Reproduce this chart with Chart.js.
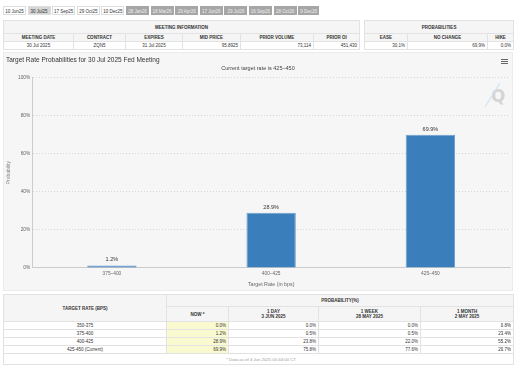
<!DOCTYPE html>
<html>
<head>
<meta charset="utf-8">
<script src="https://cdn.jsdelivr.net/npm/chart.js@4.4.1/dist/chart.umd.min.js"></script>
<style>
  body { margin: 0; width: 515px; height: 369px; background: #fff; font-family: "Liberation Sans", Arial, sans-serif; position: relative; overflow: hidden; }
  .tabs { position: absolute; left: 3px; top: 6px; height: 10px; }
  .tab { position: absolute; top: 0; height: 9px; line-height: 9px; font-size: 4.5px; text-align: center; border: 1px solid #ddd; box-sizing: border-box; color: #333; background: #fff; }
  .tab.sel { background: #d6d6d6; }
  .tab.far { background: #a6a6a6; color: #eee; border-color: #a6a6a6; }
  table { border-collapse: collapse; position: absolute; table-layout: fixed; font-size: 4.5px; color: #333; }
  td, th { border: 1px solid #e2e2e2; padding: 0 2px; white-space: nowrap; overflow: hidden; }
  th { font-weight: bold; background: #f5f5f5; text-align: center; }
  td.r { text-align: right; }
  td.c { text-align: center; }
  td.now { background: #fafad0; }
  #panel { position: absolute; left: 3px; top: 52px; width: 510px; height: 239px; background: #f6f6f6; border: 1px solid #ececec; box-sizing: border-box; }
  #chartWrap { position: absolute; left: 0; top: 0; width: 508px; height: 237px; }
  .menu { position: absolute; left: 497px; top: 6px; width: 7px; }
  .menu div { height: 1px; background: #666; margin-bottom: 1px; }
  .logo { position: absolute; left: 487px; top: 33px; font-size: 17px; font-weight: bold; color: #d4d4d4; font-family: "DejaVu Sans", sans-serif; }
  .streak { position: absolute; left: 488px; top: 28px; width: 1px; height: 28px; background: #cfe3f4; transform: rotate(32deg); }
  .foot { text-align: right; color: #999; font-size: 4.3px; }
</style>
</head>
<body>
<div class="tabs" id="tabs"></div>

<table id="meetTable" style="left:3px; top:20px; width:356px;">
  <colgroup><col style="width:70px"><col style="width:52px"><col style="width:57px"><col style="width:58px"><col style="width:73px"><col style="width:46px"></colgroup>
  <tr style="height:13px"><th colspan="6">MEETING INFORMATION</th></tr>
  <tr style="height:8px"><th>MEETING DATE</th><th>CONTRACT</th><th>EXPIRES</th><th>MID PRICE</th><th>PRIOR VOLUME</th><th>PRIOR OI</th></tr>
  <tr style="height:8px" id="meetRow"></tr>
</table>

<table id="probTable" style="left:364px; top:20px; width:149px;">
  <colgroup><col style="width:43px"><col style="width:80px"><col style="width:26px"></colgroup>
  <tr style="height:13px"><th colspan="3">PROBABILITIES</th></tr>
  <tr style="height:8px"><th>EASE</th><th>NO CHANGE</th><th>HIKE</th></tr>
  <tr style="height:8px" id="probRow"></tr>
</table>

<div id="panel">
  <div id="chartWrap"><canvas id="chartProb"></canvas></div>
  <div class="menu"><div></div><div></div><div></div></div>
  <div class="logo">Q</div>
  <div class="streak"></div>
</div>

<table id="histTable" style="left:3px; top:294px; width:510px;">
  <colgroup><col style="width:163px"><col style="width:62px"><col style="width:90px"><col style="width:102px"><col style="width:93px"></colgroup>
  <tr style="height:12px"><th rowspan="2">TARGET RATE (BPS)</th><th colspan="4">PROBABILITY(%)</th></tr>
  <tr style="height:15px"><th>NOW *</th><th>1 DAY<br>3 JUN 2025</th><th>1 WEEK<br>28 MAY 2025</th><th>1 MONTH<br>2 MAY 2025</th></tr>
  <tbody id="histBody"></tbody>
</table>

<script>
// meeting tabs
const meetingTabs = ['10 Jun25', '30 Jul25', '17 Sep25', '29 Oct25', '10 Dec25', '28 Jan26', '18 Mar26', '29 Apr26', '17 Jun26', '29 Jul26', '16 Sep26', '28 Oct26', '9 Dec26'];
const selectedTab = 1;

// meeting information
const meetingInfo = ['30 Jul 2025', 'ZQN5', '31 Jul 2025', '95.8925', '73,114', '451,430'];
const meetingAlign = ['c', 'c', 'c', 'r', 'r', 'r'];
const summaryProbs = ['30.1%', '69.9%', '0.0%'];

// chart data
const targetRates = ['375\u2013400', '400\u2013425', '425\u2013450'];
const probabilities = [1.2, 28.9, 69.9];

// history table
const tableRates = ['350-375', '375-400', '400-425', '425-450 (Current)'];
const probNow = [0.0, 1.2, 28.9, 69.9];
const prob1Day = [0.0, 0.5, 23.8, 75.8];
const prob1Week = [0.0, 0.5, 22.0, 77.6];
const prob1Month = [0.8, 23.4, 55.2, 20.7];

// tabs
var tabsEl = document.getElementById('tabs');
var x = 0;
meetingTabs.forEach(function(t, i) {
	var d = document.createElement('div');
	d.className = 'tab' + (i == selectedTab ? ' sel' : '') + (i > 4 ? ' far' : '');
	var w = t.length > 7 ? 23 : 21;
	d.style.left = x + 'px';
	d.style.width = w + 'px';
	d.textContent = t;
	tabsEl.appendChild(d);
	x += w + 1.6;
});

document.getElementById('meetRow').innerHTML = meetingInfo.map(function(v, i) {
	return '<td class="' + meetingAlign[i] + '">' + v + '</td>';
}).join('');
document.getElementById('probRow').innerHTML = summaryProbs.map(function(v) {
	return '<td class="r">' + v + '</td>';
}).join('');

var rowsHtml = '';
tableRates.forEach(function(r, i) {
	rowsHtml += '<tr style="height:8px"><td class="c">' + r + '</td>' +
		'<td class="r now">' + probNow[i].toFixed(1) + '%</td>' +
		'<td class="r">' + prob1Day[i].toFixed(1) + '%</td>' +
		'<td class="r">' + prob1Week[i].toFixed(1) + '%</td>' +
		'<td class="r">' + prob1Month[i].toFixed(1) + '%</td></tr>';
});
rowsHtml += '<tr style="height:11px"><td colspan="5" class="foot"><span style="position:relative; right:215px">* Data as of 4 Jun 2025 05:44:00 CT</span></td></tr>';
document.getElementById('histBody').innerHTML = rowsHtml;

// value labels on top of bars
const barLabels = {
	id: 'barLabels',
	afterDatasetsDraw: function(chart) {
		var ctx = chart.ctx;
		var meta = chart.getDatasetMeta(0);
		ctx.save();
		ctx.fillStyle = '#333';
		ctx.font = '5.5px "Liberation Sans", Arial, sans-serif';
		ctx.textAlign = 'center';
		ctx.textBaseline = 'bottom';
		meta.data.forEach(function(bar, i) {
			ctx.fillText(probabilities[i].toFixed(1) + '%', bar.x, bar.y - 3);
		});
		ctx.restore();
	}
};

const fontFam = '"Liberation Sans", Arial, sans-serif';

const config = {
	type: 'bar',
	data: {
		labels: targetRates,
		datasets: [{
			label: 'Probability',
			data: probabilities,
			backgroundColor: '#3a7fbb',
			borderColor: '#6b9fcf',
			borderWidth: 1,
			barPercentage: 0.31,
			categoryPercentage: 1
		}]
	},
	options: {
		responsive: true,
		maintainAspectRatio: false,
		animation: false,
		layout: { padding: { left: 2, right: 2, top: 3, bottom: 2 } },
		plugins: {
			legend: { display: false },
			tooltip: { enabled: false },
			title: {
				display: true,
				text: 'Target Rate Probabilities for 30 Jul 2025 Fed Meeting',
				align: 'start',
				color: '#333',
				font: { family: fontFam, size: 6.5, weight: 'normal' },
				padding: { top: 0, bottom: 0 }
			},
			subtitle: {
				display: true,
				text: 'Current target rate is 425\u2013450',
				color: '#444',
				font: { family: fontFam, size: 5.5 },
				padding: { top: 1, bottom: 6 }
			}
		},
		scales: {
			x: {
				grid: { display: false, drawTicks: false },
				border: { color: '#ccc' },
				ticks: { color: '#666', font: { family: fontFam, size: 4.8 }, padding: 3 },
				title: { display: true, text: 'Target Rate (in bps)', color: '#666', font: { family: fontFam, size: 5.3 }, padding: { top: 2, bottom: 0 } }
			},
			y: {
				min: 0,
				max: 100,
				ticks: { stepSize: 20, color: '#666', font: { family: fontFam, size: 4.8 }, padding: 2, callback: function(v) { return v + '%'; } },
				grid: { color: '#d6d6d6', drawTicks: false },
				border: { color: '#ccc', dash: [1, 2] },
				title: { display: true, text: 'Probability', color: '#888', font: { family: fontFam, size: 5 }, padding: { top: 0, bottom: 4 } }
			}
		}
	},
	plugins: [barLabels]
};

const chartProb = new Chart(document.getElementById('chartProb'), config);
</script>
</body>
</html>
